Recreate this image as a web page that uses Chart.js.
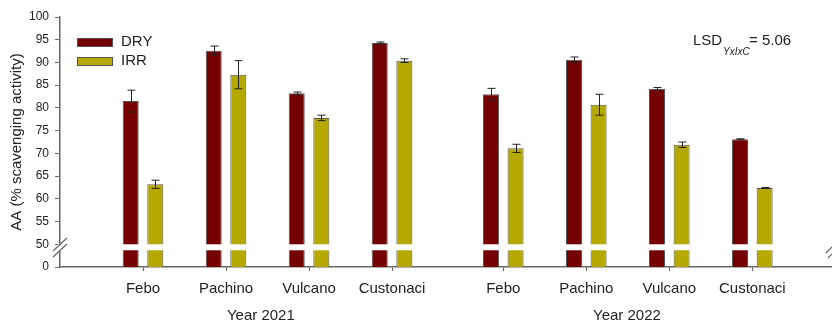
<!DOCTYPE html>
<html lang="en">
<head>
    <meta charset="UTF-8">
    <title>AA (% scavenging activity)</title>
    <script src="https://cdn.jsdelivr.net/npm/chart.js"></script>
    <style>
        html, body { margin: 0; padding: 0; background: #fff; }
        .chart-container { width: 832px; height: 323px; }
    </style>
</head>
<body>
    <div class="chart-container">
        <canvas id="aaChart"></canvas>
    </div>

    <script>
        // Cultivars per year, placed on a linear axis so the two years get a wider gap
        const cultivars = ['Febo', 'Pachino', 'Vulcano', 'Custonaci', 'Febo', 'Pachino', 'Vulcano', 'Custonaci'];
        const groupPos = [1, 2, 3, 4, 5.34, 6.34, 7.34, 8.34];
        const years = ['Year 2021', 'Year 2022'];
        const yearPos = [2.42, 6.83];

        // Antioxidant activity (mean and error) for dry and irrigated plots
        const dry = [81.5, 92.6, 83.2, 94.3, 83.0, 90.6, 84.2, 73.1];
        const dryErr = [2.4, 1.0, 0.3, 0.2, 1.3, 0.6, 0.3, 0.1];
        const irr = [63.2, 87.3, 77.8, 90.4, 71.1, 80.7, 71.9, 62.4];
        const irrErr = [0.9, 3.1, 0.6, 0.4, 0.9, 2.3, 0.6, 0.1];

        // Broken y axis: the value 45 stands for 0, then 50..100
        const yFloor = 45;
        const yTicks = [45, 50, 55, 60, 65, 70, 75, 80, 85, 90, 95, 100];
        const lsdValue = '5.06';

        const DRY_COLOR = '#750000';
        const IRR_COLOR = '#b5a800';
        const EDGE = '#555';
        const FONT = "'Liberation Sans', Arial, sans-serif";

        Chart.defaults.font.family = FONT;
        Chart.defaults.color = '#222';

        const extras = {
            id: 'extras',
            afterDatasetsDraw(chart) {
                const ctx = chart.ctx;
                const y = chart.scales.y;
                const area = chart.chartArea;

                // white band across the bars where the axis is broken
                const gapTop = y.getPixelForValue(50);
                ctx.save();
                ctx.fillStyle = '#fff';
                ctx.fillRect(area.left + 2, gapTop, area.right - area.left - 20, 6);
                ctx.restore();

                // error bars
                const errs = [dryErr, irrErr];
                const vals = [dry, irr];
                ctx.save();
                ctx.strokeStyle = '#222';
                ctx.lineWidth = 1;
                chart.data.datasets.forEach((ds, d) => {
                    chart.getDatasetMeta(d).data.forEach((bar, i) => {
                        const x = Math.round(bar.x) + 0.5;
                        const hi = y.getPixelForValue(vals[d][i] + errs[d][i]);
                        const lo = y.getPixelForValue(vals[d][i] - errs[d][i]);
                        ctx.beginPath();
                        ctx.moveTo(x, hi); ctx.lineTo(x, lo);
                        ctx.moveTo(x - 4, hi); ctx.lineTo(x + 4, hi);
                        ctx.moveTo(x - 4, lo); ctx.lineTo(x + 4, lo);
                        ctx.stroke();
                    });
                });
                ctx.restore();
            },
            afterDraw(chart) {
                const ctx = chart.ctx;
                const x = chart.scales.x;
                const area = chart.chartArea;
                ctx.save();

                // axis break marks on the y axis
                ctx.fillStyle = '#fff';
                ctx.fillRect(area.left - 2, 244, 5, 7);
                ctx.strokeStyle = '#666';
                ctx.lineWidth = 1.2;
                ctx.beginPath();
                ctx.moveTo(53, 251); ctx.lineTo(67, 238);
                ctx.moveTo(53, 257); ctx.lineTo(67, 244);
                // and at the right end
                ctx.moveTo(826, 253); ctx.lineTo(834, 245);
                ctx.moveTo(828, 258); ctx.lineTo(836, 250);
                ctx.stroke();

                // legend
                const items = [['DRY', DRY_COLOR, 38], ['IRR', IRR_COLOR, 57]];
                ctx.font = '15px ' + FONT;
                ctx.textBaseline = 'middle';
                ctx.textAlign = 'left';
                items.forEach(([label, color, top]) => {
                    ctx.fillStyle = color;
                    ctx.fillRect(77, top, 35, 8);
                    ctx.strokeStyle = EDGE;
                    ctx.lineWidth = 1;
                    ctx.strokeRect(77.5, top + 0.5, 35, 8);
                    ctx.fillStyle = '#222';
                    ctx.fillText(label, 121, top + 4);
                });

                // LSD annotation
                ctx.fillText('LSD', 693, 41);
                ctx.font = 'italic 10px ' + FONT;
                ctx.fillText('YxIxC', 723, 52);
                ctx.font = '15px ' + FONT;
                ctx.fillText('= ' + lsdValue, 749, 41);

                // year labels
                ctx.textAlign = 'center';
                years.forEach((label, i) => {
                    ctx.fillText(label, x.getPixelForValue(yearPos[i]), 316);
                });
                ctx.restore();
            }
        };

        const ctx = document.getElementById('aaChart').getContext('2d');
        new Chart(ctx, {
            type: 'bar',
            data: {
                datasets: [{
                    label: 'DRY',
                    data: dry.map((v, i) => ({ x: groupPos[i], y: v })),
                    backgroundColor: DRY_COLOR,
                    borderColor: EDGE,
                    borderWidth: 1,
                    categoryPercentage: 0.593,
                    barPercentage: 0.65
                }, {
                    label: 'IRR',
                    data: irr.map((v, i) => ({ x: groupPos[i], y: v })),
                    backgroundColor: IRR_COLOR,
                    borderColor: EDGE,
                    borderWidth: 1,
                    categoryPercentage: 0.593,
                    barPercentage: 0.65
                }]
            },
            options: {
                responsive: true,
                maintainAspectRatio: false,
                animation: false,
                layout: { padding: { top: 17, right: 0, left: 0, bottom: 0 } },
                plugins: {
                    legend: { display: false },
                    tooltip: { enabled: false }
                },
                scales: {
                    x: {
                        type: 'linear',
                        min: 0,
                        max: 9.3,
                        offset: false,
                        afterBuildTicks: s => { s.ticks = groupPos.map(v => ({ value: v })); },
                        afterFit: s => { s.height = 56; },
                        grid: { drawOnChartArea: false, offset: false, tickLength: 4, color: '#666' },
                        border: { color: '#666', width: 1.5 },
                        ticks: {
                            autoSkip: false,
                            maxRotation: 0,
                            padding: 9,
                            font: { size: 15 },
                            callback: (v, i) => cultivars[i]
                        }
                    },
                    y: {
                        min: yFloor,
                        max: 100,
                        afterBuildTicks: s => { s.ticks = yTicks.map(v => ({ value: v })); },
                        afterFit: s => { s.width = 60; },
                        grid: { drawOnChartArea: false, tickLength: 5, color: '#666' },
                        border: { color: '#666', width: 1.5 },
                        ticks: {
                            padding: 6,
                            font: { size: 12 },
                            callback: v => (v === yFloor ? '0' : v)
                        },
                        title: {
                            display: true,
                            text: 'AA (% scavenging activity)',
                            font: { size: 15 },
                            padding: { top: 8, bottom: 4 }
                        }
                    }
                }
            },
            plugins: [extras]
        });
    </script>
</body>
</html>
